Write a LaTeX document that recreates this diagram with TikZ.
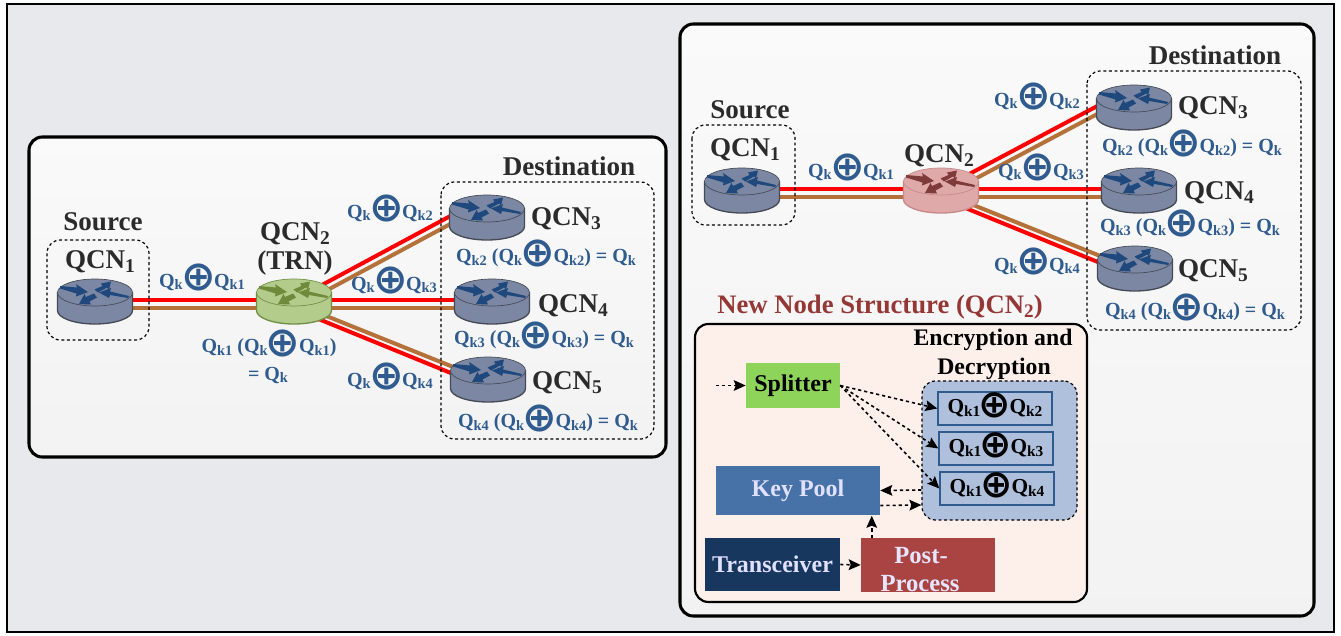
\documentclass[tikz,border=0pt]{standalone}
\usepackage{fontspec}
\usepackage{graphicx}
\setmainfont{Liberation Serif}
\newfontfamily\symfont{DejaVu Sans}
\usetikzlibrary{arrows.meta,calc,backgrounds}
\pgfdeclarelayer{panels}\pgfdeclarelayer{links}
\pgfsetlayers{panels,links,main}
\definecolor{lblue}{HTML}{2F5B8F}
\definecolor{dgray}{HTML}{2B2B2B}
\definecolor{rtr}{HTML}{7B87A3}
\definecolor{rtre}{HTML}{454A55}
\definecolor{rtra}{HTML}{1F497D}
\definecolor{grn}{HTML}{B3CB8B}
\definecolor{grne}{HTML}{6F8F45}
\definecolor{grna}{HTML}{6F8A3A}
\definecolor{pnk}{HTML}{DFA9A9}
\definecolor{pnke}{HTML}{C88888}
\definecolor{pnka}{HTML}{7F3A3A}
\definecolor{brn}{HTML}{B5713A}
\definecolor{encf}{HTML}{AFC0DC}
\newcommand{\sbs}[1]{\raisebox{-0.3ex}{\scalebox{.72}{#1}}}
\newcommand{\qq}[1]{Q\sbs{#1}}
\newcommand{\opl}{\kern-1.2pt\raisebox{-0.42ex}[0pt][0pt]{\fontsize{31}{31}\selectfont\symfont ⊕}\kern-1.2pt}
\newcommand{\opb}{\kern-1.2pt\raisebox{-0.42ex}[0pt][0pt]{\fontsize{29}{29}\selectfont\symfont ⊕}\kern-1.2pt}
\tikzset{
  panel/.style={draw=black,line width=2.3pt,rounded corners=10pt,top color=white!98!black,bottom color=black!5},
  dbox/.style={draw=black,line width=.9pt,dash pattern=on 2.2pt off 2pt,rounded corners=10pt},
  rnode/.style={minimum width=56.25pt,minimum height=33pt,inner sep=0pt},
  lbl/.style={text=lblue,font=\bfseries\fontsize{15}{17}\selectfont,inner sep=0pt,align=center},
  ttl/.style={text=dgray,font=\bfseries\fontsize{20.3}{22}\selectfont,inner sep=0pt,align=center},
  redl/.style={draw=red,line width=3pt},
  brnl/.style={draw=brn,line width=3pt},
  arr/.style={draw=black,line width=1.2pt,dash pattern=on 2.4pt off 2.2pt,-{Stealth[length=9pt,width=8pt,inset=1.5pt]}},
  blk/.style={inner sep=0pt,font=\bfseries\fontsize{18}{21}\selectfont,align=center},
  xorbox/.style={draw=lblue,line width=1pt,fill=encf,minimum width=85.5pt,minimum height=24.7pt,inner sep=0pt,text=black,font=\bfseries\fontsize{16}{18}\selectfont}
}
\newcommand{\routerbody}[4]{%
  \begin{scope}[shift={(#1.center)}]
    \path[fill=#2,draw=#3,line width=1pt] (-37.5,-8.5) -- (-37.5,9.5) arc[start angle=180,end angle=0,x radius=37.5,y radius=13.5] -- (37.5,-8.5) -- cycle;
    \path[fill=#2,draw=#3,line width=.5pt] (0,-8.5) ellipse[x radius=37.5,y radius=13.5];
    \fill[#4] (-35,-15) -- (-18,-13.5) -- (-19,-17) -- (-7,-9) -- (-19,-4.5) -- (-18.5,-7.5) -- (-35,-12.5) -- cycle;
    \fill[#4] (34,-5) -- (15,-9.5) -- (16,-13) -- (4,-8.5) -- (14,-3) -- (15,-6) -- (33,-3) -- cycle;
    \fill[#4] (-1,-7.5) -- (-9,-4) -- (-10.5,-7) -- (-16,3) -- (-4,3.5) -- (-5.5,0.5) -- (2,-3.5) -- cycle;
    \fill[#4] (-0.5,-11.5) -- (7.5,-15) -- (6,-17.5) -- (16,-19.5) -- (14,-11.5) -- (12,-13.5) -- (3,-8.5) -- cycle;
  \end{scope}}
\begin{document}
\begin{tikzpicture}[x=.75pt,y=-.75pt]
\useasboundingbox (0,0) rectangle (1341,635);
\begin{pgfonlayer}{panels}
  \fill[white] (0,0) rectangle (1341,635);
  \draw[fill={rgb,255:red,232;green,233;blue,237},line width=1.5pt] (7,4) rectangle (1334,632);
  \draw[panel] (29,137) rectangle (666,457);
  \draw[panel] (680,24) rectangle (1314,616);
  \draw[draw=black,line width=1.6pt,rounded corners=10pt,fill={rgb,255:red,253;green,240;blue,234}] (695,324) rectangle (1087,602);
\end{pgfonlayer}

% --- left network
\node[rnode] (a1) at (95,301) {};
\node[rnode] (a2) at (294,301) {};
\node[rnode] (a3) at (487,217) {};
\node[rnode] (a4) at (492,301) {};
\node[rnode] (a5) at (488,379) {};
% --- right network
\node[rnode] (b1) at (742,190) {};
\node[rnode] (b2) at (941,190) {};
\node[rnode] (b3) at (1134,107) {};
\node[rnode] (b4) at (1139,190) {};
\node[rnode] (b5) at (1135,268) {};

\begin{pgfonlayer}{links}
  \foreach \p in {a,b}{
    \draw[redl] ($(\p1.center)+(0,-1)$) -- ($(\p2.center)+(0,-1)$);
    \draw[brnl] ($(\p1.center)+(0,7)$) -- ($(\p2.center)+(0,7)$);
    \draw[redl] ($(\p2.center)+(0,-1)$) -- ($(\p3.west)+(3,-2)$);
    \draw[brnl] ($(\p2.center)+(0,7)$) -- ($(\p3.west)+(3,6)$);
    \draw[redl] ($(\p2.center)+(0,-1)$) -- ($(\p4.center)+(0,-1)$);
    \draw[brnl] ($(\p2.center)+(0,7)$) -- ($(\p4.center)+(0,7)$);
    \draw[redl] ($(\p2.center)+(0,8)$) -- ($(\p5.west)+(3,-5)$);
    \draw[brnl] ($(\p2.center)+(0,2)$) -- ($(\p5.west)+(3,-12)$);
  }
\end{pgfonlayer}

\draw[dbox] (47,240) rectangle (149,340);
\draw[dbox] (441,182) rectangle (654,439);
\draw[dbox] (692,125) rectangle (795,225);
\draw[dbox] (1087,71) rectangle (1301,330);

\routerbody{a1}{rtr}{rtre}{rtra}
\routerbody{a2}{grn}{grne}{grna}
\routerbody{a3}{rtr}{rtre}{rtra}
\routerbody{a4}{rtr}{rtre}{rtra}
\routerbody{a5}{rtr}{rtre}{rtra}
\routerbody{b1}{rtr}{rtre}{rtra}
\routerbody{b2}{pnk}{pnke}{pnka}
\routerbody{b3}{rtr}{rtre}{rtra}
\routerbody{b4}{rtr}{rtre}{rtra}
\routerbody{b5}{rtr}{rtre}{rtra}

% titles left
\node[ttl] (sa) at (103,222) {Source};
\node[ttl] (qa1) at (100,262) {QCN\sbs{1}};
\node[ttl] (qa2) at (295,234) {QCN\sbs{2}};
\node[ttl] (qa2b) at (295,263) {(TRN)};
\node[ttl] (da) at (569,166) {Destination};
\node[ttl] (qa3) at (566,219) {QCN\sbs{3}};
\node[ttl] (qa4) at (573,306) {QCN\sbs{4}};
\node[ttl] (qa5) at (567,383) {QCN\sbs{5}};
% labels left
\node[lbl] (la1) at (202,282) {\qq{k}\opl\qq{k1}};
\node[lbl] (la2) at (269,348) {\qq{k1} (\qq{k}\opl\qq{k1})};
\node[lbl] (la2b) at (268,375) {= \qq{k}};
\node[lbl] (la3) at (390,213) {\qq{k}\opl\qq{k2}};
\node[lbl] (la4) at (394,285) {\qq{k}\opl\qq{k3}};
\node[lbl] (la5) at (390,381) {\qq{k}\opl\qq{k4}};
\node[lbl] (ma3) at (546,258) {\qq{k2} (\qq{k}\opl\qq{k2}) = \qq{k}};
\node[lbl] (ma4) at (544,340) {\qq{k3} (\qq{k}\opl\qq{k3}) = \qq{k}};
\node[lbl] (ma5) at (548,423) {\qq{k4} (\qq{k}\opl\qq{k4}) = \qq{k}};
% titles right
\node[ttl] (sb) at (750,110) {Source};
\node[ttl] (qb1) at (745,150) {QCN\sbs{1}};
\node[ttl] (qb2) at (939,156) {QCN\sbs{2}};
\node[ttl] (db) at (1215,55) {Destination};
\node[ttl] (qb3) at (1213,108) {QCN\sbs{3}};
\node[ttl] (qb4) at (1219,193) {QCN\sbs{4}};
\node[ttl] (qb5) at (1213,271) {QCN\sbs{5}};
% labels right
\node[lbl] (lb1) at (851,172) {\qq{k}\opl\qq{k1}};
\node[lbl] (lb3) at (1037,101) {\qq{k}\opl\qq{k2}};
\node[lbl] (lb4) at (1041,172) {\qq{k}\opl\qq{k3}};
\node[lbl] (lb5) at (1037,266) {\qq{k}\opl\qq{k4}};
\node[lbl] (mb3) at (1192,148) {\qq{k2} (\qq{k}\opl\qq{k2}) = \qq{k}};
\node[lbl] (mb4) at (1190,228) {\qq{k3} (\qq{k}\opl\qq{k3}) = \qq{k}};
\node[lbl] (mb5) at (1195,312) {\qq{k4} (\qq{k}\opl\qq{k4}) = \qq{k}};

% node structure
\node[inner sep=0pt,text={rgb,255:red,149;green,55;blue,53},font=\bfseries\fontsize{20}{22}\selectfont] (nns) at (880,307) {New Node Structure (QCN\sbs{2})};
\node[inner sep=0pt,font=\bfseries\fontsize{17.8}{20}\selectfont] (ed1) at (993,340) {Encryption and};
\node[inner sep=0pt,font=\bfseries\fontsize{17.8}{20}\selectfont] (ed2) at (994,369) {Decryption};
\node[dbox,fill=encf,minimum width=116.25pt,minimum height=104.25pt,inner sep=0pt] (enc) at (999.5,450.5) {};
\node[xorbox] (x2) at (995,408.5) {\raisebox{-1pt}{\qq{k1}\opb\qq{k2}}};
\node[xorbox] (x3) at (996,448.5) {\raisebox{-1pt}{\qq{k1}\opb\qq{k3}}};
\node[xorbox] (x4) at (997,488.5) {\raisebox{-1pt}{\qq{k1}\opb\qq{k4}}};
\node[blk,fill={rgb,255:red,143;green,212;blue,90},minimum width=70.5pt,minimum height=33.75pt] (spl) at (793,385.5) {Splitter};
\node[blk,fill={rgb,255:red,70;green,114;blue,168},text=white!88!blue,minimum width=123pt,minimum height=36.75pt] (kp) at (798,490.5) {Key Pool};
\node[blk,fill={rgb,255:red,23;green,55;blue,94},text=white!88!blue,minimum width=101.25pt,minimum height=39.75pt] (tr) at (772.5,564.5) {Transceiver};
\node[blk,fill={rgb,255:red,169;green,68;blue,66},minimum width=100.5pt,minimum height=40.5pt] (pp) at (928,565) {};
\node[inner sep=0pt,text=white!90!blue,font=\bfseries\fontsize{18.5}{21}\selectfont] (ppa) at (921,556) {Post-};
\node[inner sep=0pt,text=white!90!blue,font=\bfseries\fontsize{18.5}{21}\selectfont] (ppb) at (920,584) {Process};
\coordinate (inp) at (716,385.5);
\draw[arr] (inp) -- (spl.west);
\draw[arr] (spl.east) -- (x2.west);
\draw[arr] (spl.east) -- (x3.west);
\draw[arr] (spl.east) -- (x4.west);
\draw[arr] ($(enc.west)+(0,39.5)$) -- (kp.east);
\draw[arr] ($(kp.east)+(0,15)$) -- ($(enc.west)+(0,54.5)$);
\draw[arr] (tr.east) -- (pp.west);
\draw[arr] ($(pp.north west)+(11,0)$) -- ($(pp.north west)+(11,-22)$);
\end{tikzpicture}
\end{document}
